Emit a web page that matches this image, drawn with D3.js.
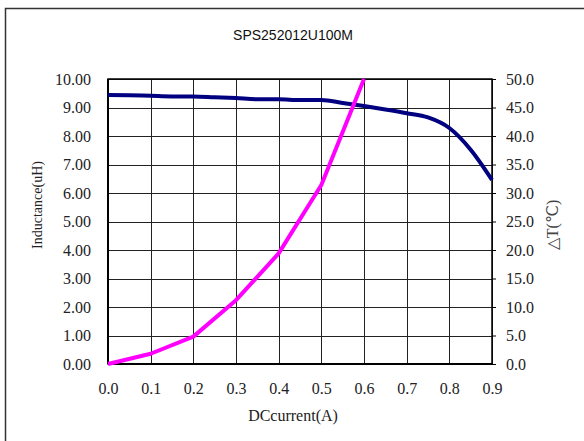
<!DOCTYPE html>
<html><head><meta charset="utf-8">
<script src="https://cdn.jsdelivr.net/npm/d3@7"></script>
<style>body{margin:0;background:#fff}svg{display:block}</style>
</head><body>
<script>
const title = "SPS252012U100M";
const currentA = [0,0.05,0.1,0.15,0.2,0.25,0.3,0.35,0.4,0.45,0.5,0.55,0.6,0.65,0.7,0.75,0.8,0.85,0.9];
const inductance = [9.44,9.43,9.41,9.39,9.39,9.36,9.33,9.29,9.29,9.26,9.26,9.16,9.05,8.93,8.80,8.65,8.28,7.52,6.46];
const tempCurrent = [0,0.1,0.2,0.3,0.4,0.5,0.6];
const deltaT = [0,1.8,4.8,11.2,19.4,31.4,50];
const xTicks = [0,0.1,0.2,0.3,0.4,0.5,0.6,0.7,0.8,0.9];
const yLeftTicks = [0,1,2,3,4,5,6,7,8,9,10];
const yRightTicks = [0,5,10,15,20,25,30,35,40,45,50];

const W=584,H=441;
const L=108,R=492,T=79,B=364;
const svg=d3.select("body").append("svg").attr("width",W).attr("height",H);
svg.append("rect").attr("x",5.5).attr("y",8.5).attr("width",700).attr("height",600)
  .attr("fill","#fff").attr("stroke","#333").attr("stroke-width",1.5);

const x=d3.scaleLinear().domain([0,0.9]).range([L,R]);
const yL=d3.scaleLinear().domain([0,10]).range([B,T]);
const yR=d3.scaleLinear().domain([0,50]).range([B,T]);

const serif="'Liberation Serif','Times New Roman',serif";

// grid
const g=svg.append("g");
g.selectAll(".vg").data(xTicks).join("line")
  .attr("x1",d=>Math.round(x(d))+0.5).attr("x2",d=>Math.round(x(d))+0.5)
  .attr("y1",T).attr("y2",B).attr("stroke","#222").attr("stroke-width",1);
g.selectAll(".hg").data(yLeftTicks).join("line")
  .attr("y1",d=>Math.round(yL(d))+0.5).attr("y2",d=>Math.round(yL(d))+0.5)
  .attr("x1",L).attr("x2",R).attr("stroke","#222").attr("stroke-width",1);

// frame of plot
svg.append("rect").attr("x",L).attr("y",T).attr("width",R-L).attr("height",B-T)
  .attr("fill","none").attr("stroke","#000").attr("stroke-width",1.5);
svg.append("line").attr("x1",L).attr("x2",R).attr("y1",B).attr("y2",B).attr("stroke","#000").attr("stroke-width",2);
svg.append("line").attr("x1",L).attr("x2",L).attr("y1",T).attr("y2",B).attr("stroke","#000").attr("stroke-width",2);

// axes
const ax=svg.append("g").attr("transform",`translate(0,${B})`)
  .call(d3.axisBottom(x).tickValues(xTicks).tickFormat(d3.format(".1f")).tickSize(0).tickPadding(19));
const al=svg.append("g").attr("transform",`translate(${L},0)`)
  .call(d3.axisLeft(yL).tickValues(yLeftTicks).tickFormat(d3.format(".2f")).tickSize(0).tickPadding(17));
const ar=svg.append("g").attr("transform",`translate(${R},0)`)
  .call(d3.axisRight(yR).tickValues(yRightTicks).tickFormat(d3.format(".1f")).tickSize(4).tickPadding(10));
[ax,al,ar].forEach(a=>{
  a.select(".domain").remove();
  a.selectAll("text").attr("font-family",serif).attr("font-size","16px").attr("fill","#222");
  a.selectAll("line").attr("stroke","#000");
});

// lines
const lineL=d3.line().x((d,i)=>x(currentA[i])).y(d=>yL(d)).curve(d3.curveMonotoneX);
svg.append("path").attr("d",lineL(inductance)).attr("fill","none")
  .attr("stroke","#000080").attr("stroke-width",4).attr("stroke-linejoin","round");
const lineR=d3.line().x((d,i)=>x(tempCurrent[i])).y(d=>yR(d));
svg.append("path").attr("d",lineR(deltaT)).attr("fill","none")
  .attr("stroke","#FF00FF").attr("stroke-width",4).attr("stroke-linejoin","round");

// texts
svg.append("text").attr("x",293).attr("y",40).attr("text-anchor","middle")
  .attr("font-family","'Liberation Sans',Arial,sans-serif").attr("font-size","14px").attr("fill","#111").text(title);
svg.append("text").attr("x",293).attr("y",421).attr("text-anchor","middle")
  .attr("font-family",serif).attr("font-size","16px").attr("fill","#222").text("DCcurrent(A)");
svg.append("text").attr("transform","translate(42,205) rotate(-90)").attr("text-anchor","middle")
  .attr("font-family",serif).attr("font-size","14px").attr("fill","#222").text("Inductance(uH)");
svg.append("text").attr("transform","translate(558,225) rotate(-90)").attr("text-anchor","middle")
  .attr("font-family",serif).attr("font-size","16px").attr("fill","#444").text("△T(℃)");
</script>
</body></html>
